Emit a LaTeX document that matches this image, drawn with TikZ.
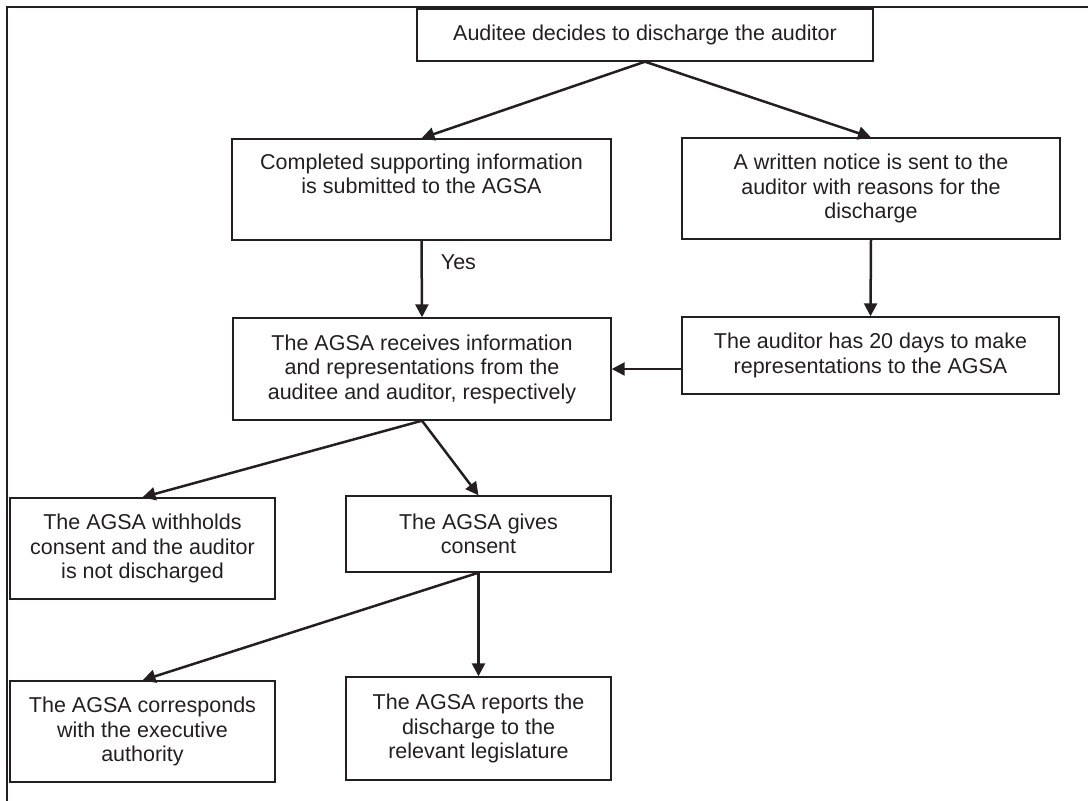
\documentclass[tikz,border=0pt]{standalone}
\usepackage{fontspec}
\setmainfont{Liberation Sans}
\usepackage{xcolor}
\usepackage{tikz}
\usetikzlibrary{arrows.meta}
\definecolor{ink}{HTML}{231F20}
\tikzstyle{box} = [draw=ink, line width=0.7pt, rectangle, align=center, inner sep=0pt, text=ink, font=\fontsize{10.75}{12.25}\selectfont]
\tikzstyle{arrow} = [draw=ink, line width=1.25pt, -{Triangle[length=6.5pt,width=6.5pt]}]

\begin{document}
\begin{tikzpicture}[x=0.5pt, y=-0.5pt]
    % page and frame
    \useasboundingbox (0,0) rectangle (1088,801);
    \draw[ink, line width=1.2pt] (7,801) -- (7,7) -- (1088,7);

    % boxes
    \node[box, minimum width=228pt, minimum height=26pt] (decide) at (645,35) {Auditee decides to discharge the auditor};
    \node[box, minimum width=189.5pt, minimum height=50.5pt] (submit) at (421.5,189.5) {Completed supporting information\\ is submitted to the AGSA\\ \strut};
    \node[box, minimum width=189pt, minimum height=50.5pt] (notice) at (871,188.5) {A written notice is sent to the\\ auditor with reasons for the\\ discharge};
    \node[box, minimum width=189pt, minimum height=51pt] (receive) at (422,369) {The AGSA receives information\\ and representations from the\\ auditee and auditor, respectively};
    \node[box, minimum width=188.5pt, minimum height=38.5pt] (days) at (870.5,355.5) {The auditor has 20 days to make\\ representations to the AGSA};
    \node[box, minimum width=132.5pt, minimum height=50.5pt] (withhold) at (142.5,548.5) {The AGSA withholds\\ consent and the auditor\\ is not discharged};
    \node[box, minimum width=132.5pt, minimum height=38pt] (consent) at (478.5,534) {The AGSA gives\\ consent};
    \node[box, minimum width=132.5pt, minimum height=50.5pt] (executive) at (142.5,731.5) {The AGSA corresponds\\ with the executive\\ authority};
    \node[box, minimum width=132.5pt, minimum height=51.5pt] (report) at (478.5,728.5) {The AGSA reports the\\ discharge to the\\ relevant legislature};

    % connectors
    \draw[arrow] (decide.south) -- (submit.north);
    \draw[arrow] (decide.south) -- (notice.north);
    \draw[arrow] (submit.south) -- node[pos=0.28, right, xshift=9pt, inner sep=0pt, text=ink, font=\fontsize{10.75}{12.25}\selectfont] {Yes} (receive.north);
    \draw[arrow] (notice.south) -- (days.north);
    \draw[arrow] (days.west |- receive.east) -- (receive.east);
    \draw[arrow] (receive.south) -- (withhold.north);
    \draw[arrow] (receive.south) -- (consent.north);
    \draw[arrow] (consent.south) -- (executive.north);
    \draw[arrow] (consent.south) -- (report.north);
\end{tikzpicture}
\end{document}
